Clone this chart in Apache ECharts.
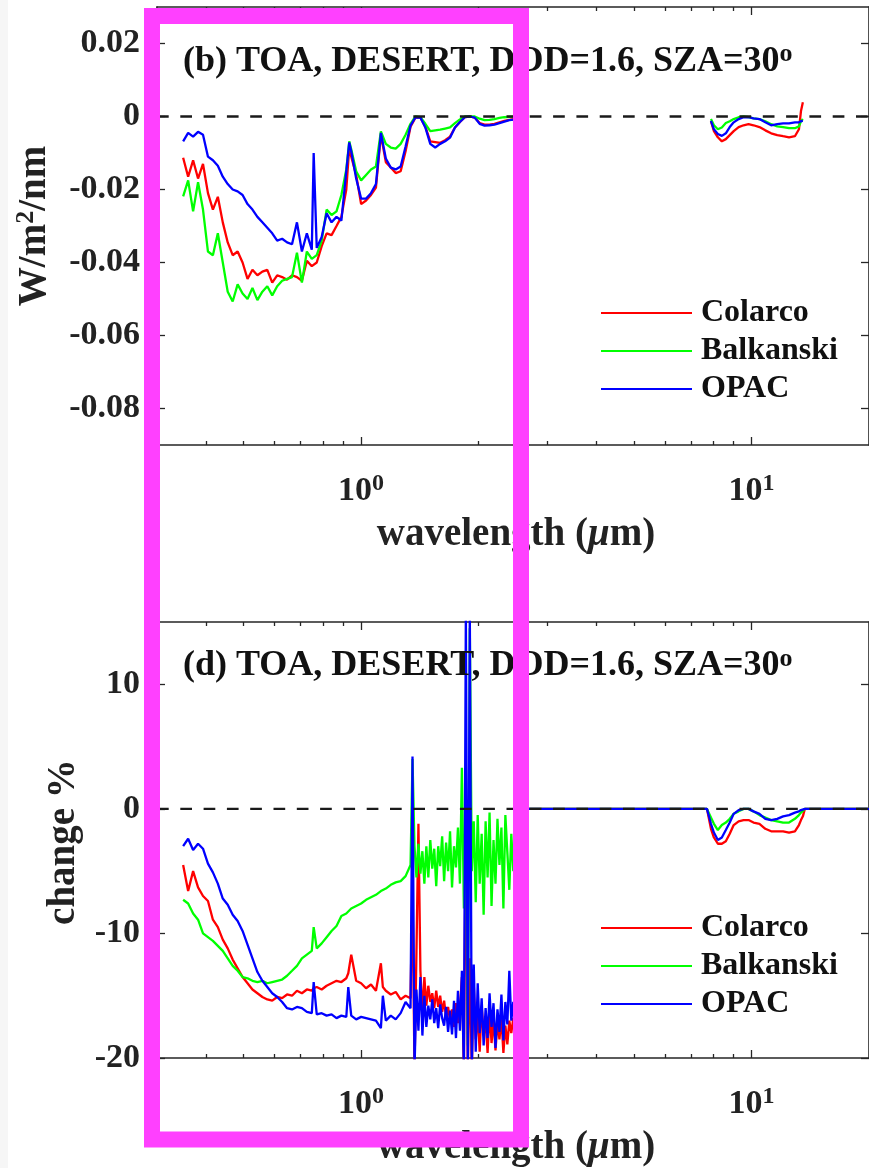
<!DOCTYPE html>
<html>
<head>
<meta charset="utf-8">
<script src="https://cdn.jsdelivr.net/npm/echarts@6/dist/echarts.min.js"></script>
<style>
  html, body { margin: 0; padding: 0; background: #ffffff; }
  #chart { width: 869px; height: 1168px; }
</style>
</head>
<body>
<div id="chart"></div>
<script>
// ---------------- data ----------------
// shortwave wavelengths (µm), panel (b)
const wlToa = [
  0.3500, 0.3605, 0.3712, 0.3822, 0.3935, 0.4052, 0.4172, 0.4295, 0.4422, 0.4553,
  0.4688, 0.4827, 0.4970, 0.5117, 0.5268, 0.5424, 0.5585, 0.5750, 0.5920, 0.6095,
  0.6276, 0.6461, 0.6653, 0.6849, 0.7052, 0.7261, 0.7476, 0.7559, 0.7697, 0.7925,
  0.8159, 0.8400, 0.8649, 0.8901, 0.9163, 0.9324, 0.9434, 0.9713, 1.0000, 1.0296,
  1.0600, 1.0914, 1.1237, 1.1569, 1.1911, 1.2263, 1.2626, 1.2999, 1.3384, 1.3779,
  1.4186, 1.4606, 1.5037, 1.5482, 1.5939, 1.6411, 1.6895, 1.7395, 1.7909, 1.8438,
  1.8983, 1.9544, 2.0122, 2.0717, 2.1329, 2.1958, 2.2609, 2.3277, 2.3965, 2.5000
];
// TOA forcing difference, W/m^2/nm
const toaColarco = [
  -0.0113, -0.0165, -0.0120, -0.0170, -0.0130, -0.0210, -0.0255, -0.0220, -0.0290, -0.0345,
  -0.0380, -0.0370, -0.0400, -0.0445, -0.0420, -0.0435, -0.0425, -0.0420, -0.0455, -0.0435,
  -0.0440, -0.0447, -0.0435, -0.0440, -0.0450, -0.0395, -0.0410, -0.0405, -0.0400, -0.0355,
  -0.0320, -0.0325, -0.0300, -0.0275, -0.0200, -0.0085, -0.0110, -0.0160, -0.0240, -0.0230,
  -0.0215, -0.0195, -0.0050, -0.0125, -0.0140, -0.0155, -0.0150, -0.0095, -0.0028, -0.0003,
  -0.0003, -0.0028, -0.0068, -0.0070, -0.0072, -0.0065, -0.0055, -0.0030, -0.0015, -0.0002,
   0.0000, -0.0003, -0.0018, -0.0022, -0.0022, -0.0020, -0.0016, -0.0012, -0.0009, -0.0006
];
const toaBalkanski = [
  -0.0219, -0.0175, -0.0260, -0.0180, -0.0255, -0.0370, -0.0380, -0.0320, -0.0400, -0.0480,
  -0.0507, -0.0460, -0.0485, -0.0500, -0.0470, -0.0503, -0.0480, -0.0465, -0.0490, -0.0465,
  -0.0450, -0.0445, -0.0440, -0.0373, -0.0455, -0.0370, -0.0390, -0.0385, -0.0380, -0.0340,
  -0.0255, -0.0270, -0.0260, -0.0215, -0.0145, -0.0068, -0.0090, -0.0150, -0.0175, -0.0160,
  -0.0145, -0.0137, -0.0041, -0.0075, -0.0085, -0.0088, -0.0075, -0.0050, -0.0020,  0.0000,
  -0.0002, -0.0020, -0.0040, -0.0038, -0.0036, -0.0033, -0.0030, -0.0018, -0.0008,  0.0000,
   0.0000,  0.0000, -0.0006, -0.0010, -0.0009, -0.0007, -0.0004, -0.0002, -0.0001,  0.0000
];
const toaOPAC = [
  -0.0068, -0.0045, -0.0055, -0.0042, -0.0050, -0.0110, -0.0120, -0.0135, -0.0165, -0.0185,
  -0.0200, -0.0205, -0.0215, -0.0240, -0.0255, -0.0275, -0.0290, -0.0305, -0.0320, -0.0340,
  -0.0335, -0.0345, -0.0350, -0.0290, -0.0370, -0.0320, -0.0365, -0.0100, -0.0360, -0.0330,
  -0.0265, -0.0290, -0.0275, -0.0285, -0.0150, -0.0071, -0.0095, -0.0170, -0.0225, -0.0225,
  -0.0210, -0.0185, -0.0045, -0.0115, -0.0140, -0.0145, -0.0137, -0.0082, -0.0025, -0.0002,
  -0.0003, -0.0030, -0.0075, -0.0085, -0.0075, -0.0068, -0.0058, -0.0030, -0.0015, -0.0002,
   0.0000, -0.0003, -0.0020, -0.0025, -0.0024, -0.0022, -0.0018, -0.0014, -0.0010, -0.0008
];

// thermal-infrared window wavelengths (µm), both panels
const wlIR = [7.873, 8.012, 8.200, 8.396, 8.595, 8.796, 9.004, 9.271, 9.544, 9.827,
              10.12, 10.48, 10.85, 11.23, 11.64, 12.05, 12.48, 12.92, 13.23, 13.39, 13.54];
const toaColarcoIR = [-0.0013, -0.0040, -0.0057, -0.0068, -0.0062, -0.0051, -0.0040, -0.0029, -0.0024, -0.0021,
                      -0.0024, -0.0029, -0.0038, -0.0046, -0.0051, -0.0054, -0.0057, -0.0054, -0.0035, 0.0015, 0.0039];
const toaBalkanskiIR = [-0.0007, -0.0024, -0.0035, -0.0030, -0.0018, -0.0013, -0.0007, -0.0002, 0.0000, -0.0002,
                        -0.0005, -0.0007, -0.0013, -0.0021, -0.0027, -0.0029, -0.0032, -0.0032, -0.0027, -0.0013, -0.0007];
const toaOPACIR = [-0.0012, -0.0035, -0.0048, -0.0053, -0.0046, -0.0029, -0.0016, -0.0007, -0.0002, -0.0002,
                   -0.0005, -0.0007, -0.0016, -0.0024, -0.0021, -0.0019, -0.0019, -0.0016, -0.0016, -0.0013, -0.0012];

// shortwave wavelengths (µm), panel (d)
const wlPct = [
  0.3500, 0.3605, 0.3712, 0.3822, 0.3935, 0.4052, 0.4172, 0.4295, 0.4422, 0.4553,
  0.4688, 0.4827, 0.4970, 0.5117, 0.5268, 0.5424, 0.5585, 0.5750, 0.5920, 0.6095,
  0.6276, 0.6461, 0.6653, 0.6849, 0.7052, 0.7261, 0.7476, 0.7559, 0.7697, 0.7925,
  0.8159, 0.8400, 0.8649, 0.8901, 0.9163, 0.9271, 0.9434, 0.9713, 1.0000, 1.0296,
  1.0600, 1.0914, 1.1237, 1.1368, 1.1569, 1.1911, 1.2263, 1.2626, 1.2999,
  1.3384, 1.3541, 1.3700, 1.3860, 1.4023, 1.4187, 1.4354, 1.4522, 1.4692, 1.4864,
  1.5039, 1.5215, 1.5393, 1.5574, 1.5756, 1.5941, 1.6128, 1.6317, 1.6508, 1.6702,
  1.6897, 1.7096, 1.7296, 1.7499, 1.7704, 1.7911, 1.8121, 1.8334, 1.8549, 1.8766,
  1.8986, 1.9209, 1.9434, 1.9662, 1.9892, 2.0125, 2.0361, 2.0600, 2.0841, 2.1086,
  2.1333, 2.1583, 2.1836, 2.2092, 2.2351, 2.2613, 2.2878, 2.3146, 2.3417, 2.3692,
  2.3969, 2.4250, 2.4535, 2.4822
];
// relative change, %
const pctColarco = [
  -4.5, -6.6, -5.0, -6.3, -7.0, -7.4, -8.9, -9.5, -10.5, -11.2,
  -12.1, -12.8, -13.5, -14.0, -14.5, -14.8, -15.1, -15.3, -15.4, -15.1,
  -15.2, -14.9, -15.0, -14.6, -14.8, -14.5, -14.6, -14.4, -14.3, -14.5,
  -14.2, -14.0, -13.8, -13.9, -13.6, -13.2, -11.7, -13.8, -14.0, -14.4,
  -14.1, -14.6, -12.4, -14.3, -14.6, -14.9, -14.7, -15.3, -15.0,
  -15.2, -6.0, -21.0, -11.5, -1.2, -13.0, -16.5, -13.5, -15.8, -14.2,
  -15.5, -14.8, -16.0, -14.6, -15.9, -15.0, -16.3, -15.4, -16.8, -15.9,
  -17.0, -16.1, -17.5, -15.6, -17.2, -16.0, -13.5, -21.0, 0.5, -21.0,
  -12.0, -21.0, -14.0, -18.5, -16.5, -19.5, -15.8, -18.2, -17.0, -19.6,
  -16.2, -18.8, -16.9, -19.4, -17.1, -18.5, -16.8, -19.6, -17.4, -18.9,
  -17.0, -18.0, -16.8, -17.5
];
const pctBalkanski = [
  -7.3, -7.6, -8.4, -8.9, -10.0, -10.3, -10.6, -11.0, -11.4, -12.0,
  -12.6, -13.0, -13.5, -13.6, -13.8, -13.9, -13.8, -14.0, -13.9, -13.8,
  -13.7, -13.4, -13.0, -12.6, -12.0, -11.7, -11.4, -9.5, -11.2, -10.8,
  -10.3, -9.8, -9.4, -8.6, -8.4, -8.3, -8.0, -7.8, -7.6, -7.3,
  -7.1, -6.9, -6.6, -6.5, -6.4, -6.1, -5.9, -5.8, -5.4,
  -4.5, 4.0, -3.0, -5.5, -2.8, -5.2, -3.4, -6.0, -3.0, -5.5,
  -2.5, -4.8, -3.2, -6.2, -3.0, -4.6, -2.2, -5.8, -2.7, -5.0,
  -1.8, -6.3, -3.0, -4.7, -1.5, -6.0, 3.3, -8.0, -2.0, -19.0,
  14.5, -5.0, -1.0, -7.5, -0.5, -6.0, -2.0, -8.5, -1.0, -5.5,
  -0.3, -7.8, -2.5, -6.0, -0.8, -4.5, -1.5, -8.0, -0.5, -3.5,
  -6.5, -2.0, -5.0, -1.0
];
const pctOPAC = [
  -3.0, -2.4, -3.3, -2.8, -3.2, -4.4, -5.1, -6.0, -7.2, -7.7,
  -8.5, -9.0, -9.8, -10.9, -12.0, -13.1, -13.8, -14.3, -14.8, -15.1,
  -15.5, -16.0, -16.1, -15.9, -16.0, -16.3, -16.4, -13.9, -16.5, -16.4,
  -16.6, -16.5, -16.8, -16.6, -16.7, -14.3, -16.6, -16.9, -16.7, -16.8,
  -16.9, -17.0, -17.6, -15.0, -17.0, -16.6, -16.9, -16.4, -15.5,
  -16.0, 4.2, -21.0, -14.5, -17.8, -13.5, -18.2, -15.0, -17.5, -15.8,
  -16.9, -15.3, -17.2, -16.0, -17.6, -15.7, -16.8, -17.4, -15.9, -17.9,
  -16.2, -18.1, -15.4, -18.4, -14.6, -17.8, -13.0, -21.0, 16.0, -21.0,
  16.0, -21.0, -12.5, -19.5, -14.0, -18.0, -15.2, -19.0, -16.0, -18.4,
  -14.8, -17.5, -15.6, -19.2, -16.1, -17.9, -14.9, -18.6, -15.5, -17.3,
  -13.0, -17.0, -15.5, -16.5
];
const pctColarcoIR = [-1.6, -2.3, -2.8, -2.8, -2.6, -2.0, -1.3, -1.0, -0.9, -0.9,
                      -1.1, -1.2, -1.6, -1.8, -1.8, -1.8, -1.9, -1.8, -1.3, -0.9, -0.6];
const pctBalkanskiIR = [-0.7, -1.2, -1.7, -1.3, -1.1, -0.8, -0.4, -0.2, 0.0, 0.0,
                        -0.2, -0.5, -0.7, -0.9, -1.0, -1.1, -1.1, -0.8, -0.5, -0.3, -0.2];
const pctOPACIR = [-1.2, -1.9, -2.5, -2.3, -1.7, -1.1, -0.4, -0.1, 0.0, 0.0,
                   -0.2, -0.4, -0.8, -0.9, -0.8, -0.6, -0.5, -0.3, -0.2, -0.1, -0.05];
// panel (d): zero change between the bands and beyond the IR window
const pctFlatLow = [2.5, 7.69];
const pctFlatHigh = [13.70, 20];

// axis ticks
const xMajorTicks = [1, 10];
const xMinorTicks = [0.4, 0.5, 0.6, 0.7, 0.8, 0.9, 2, 3, 4, 5, 6, 7, 8, 9];
const toaTicks = [-0.08, -0.06, -0.04, -0.02, 0, 0.02];
const pctTicks = [-20, -10, 0, 10];
const seriesNames = ['Colarco', 'Balkanski', 'OPAC'];
const seriesColors = ['#ff0000', '#00ff00', '#0000ff'];

// ---------------- styling helpers ----------------
const SERIF = "'Liberation Serif', 'Times New Roman', serif";
const AXC = '#262626';
const X_MIN = 0.3, X_MAX = 20;

function xAxesFor(grid) {
  const base = {
    type: 'log', logBase: 10, min: X_MIN, max: X_MAX, gridIndex: grid,
    splitLine: { show: false }, minorTick: { show: false }, minorSplitLine: { show: false }
  };
  const line = { show: true, onZero: false, lineStyle: { color: AXC, width: 1.6 } };
  const major = { show: true, inside: true, length: 8, customValues: xMajorTicks, lineStyle: { color: AXC, width: 1.3 } };
  const minor = { show: true, inside: true, length: 4, customValues: xMinorTicks, lineStyle: { color: AXC, width: 1.3 } };
  return [
    Object.assign({}, base, {
      position: 'bottom', axisLine: line, axisTick: major,
      axisLabel: {
        show: true, customValues: xMajorTicks, margin: 27,
        formatter: v => '{b|10}{s|' + Math.round(Math.log10(v)) + '}',
        rich: {
          b: { fontFamily: SERIF, fontWeight: 'bold', fontSize: 34, lineHeight: 38, color: '#222' },
          s: { fontFamily: SERIF, fontWeight: 'bold', fontSize: 24, lineHeight: 20, verticalAlign: 'top', color: '#222' }
        }
      }
    }),
    Object.assign({}, base, { position: 'bottom', axisLine: { show: false, onZero: false }, axisTick: minor, axisLabel: { show: false } }),
    Object.assign({}, base, { position: 'top', axisLine: line, axisTick: major, axisLabel: { show: false } }),
    Object.assign({}, base, { position: 'top', axisLine: { show: false, onZero: false }, axisTick: minor, axisLabel: { show: false } })
  ];
}

function yAxesFor(grid, min, max, ticks, fmt) {
  const line = { show: true, onZero: false, lineStyle: { color: AXC, width: 1.6 } };
  const tick = { show: true, inside: true, length: 8, customValues: ticks, lineStyle: { color: AXC, width: 1.3 } };
  return [
    {
      type: 'value', gridIndex: grid, min, max, position: 'left',
      axisLine: line, axisTick: tick, splitLine: { show: false },
      axisLabel: {
        show: true, customValues: ticks, margin: 17, formatter: fmt,
        fontFamily: SERIF, fontWeight: 'bold', fontSize: 34, color: '#222'
      }
    },
    {
      type: 'value', gridIndex: grid, min, max, position: 'right',
      axisLine: line, axisTick: tick, splitLine: { show: false }, axisLabel: { show: false }
    }
  ];
}

function pairs(xs, ys) { return xs.map((x, i) => [x, ys[i]]); }

function curve(name, color, xIdx, yIdx, data) {
  return {
    name, type: 'line', xAxisIndex: xIdx, yAxisIndex: yIdx, data,
    showSymbol: false, symbol: 'none', animation: false, silent: true,
    lineStyle: { color, width: 2.3 }, itemStyle: { color }, z: 3
  };
}

function zeroLine(xIdx, yIdx) {
  return {
    name: 'zero', type: 'line', xAxisIndex: xIdx, yAxisIndex: yIdx,
    data: [[X_MIN, 0], [X_MAX, 0]], showSymbol: false, symbol: 'none',
    animation: false, silent: true, z: 5,
    lineStyle: { color: '#1a1a1a', width: 2.4, type: [11.7, 11.6] }
  };
}

const toaVis = [toaColarco, toaBalkanski, toaOPAC];
const toaIR = [toaColarcoIR, toaBalkanskiIR, toaOPACIR];
const pctVis = [pctColarco, pctBalkanski, pctOPAC];
const pctIR = [pctColarcoIR, pctBalkanskiIR, pctOPACIR];

const series = [];
seriesNames.forEach((n, k) => {
  // panel (b): shortwave band, a break, then the IR window
  const d = pairs(wlToa, toaVis[k]).concat([[4, null]], pairs(wlIR, toaIR[k]));
  series.push(curve(n, seriesColors[k], 0, 0, d));
});
series.push(zeroLine(0, 0));
seriesNames.forEach((n, k) => {
  // panel (d): change stays at zero outside the two bands
  const d = pairs(wlPct, pctVis[k])
    .concat(pctFlatLow.map(w => [w, 0]), pairs(wlIR, pctIR[k]), pctFlatHigh.map(w => [w, 0]));
  series.push(curve(n, seriesColors[k], 4, 2, d));
});
series.push(zeroLine(4, 2));

function legendAt(top) {
  return {
    top, left: 601, orient: 'vertical', icon: 'rect', itemWidth: 91, itemHeight: 2,
    itemGap: 0, padding: 0, data: seriesNames, selectedMode: false,
    textStyle: { fontFamily: SERIF, fontWeight: 'bold', fontSize: 32, color: '#111', lineHeight: 38, padding: [0, 0, 0, 4] }
  };
}

function richTitle(letter, y) {
  return {
    type: 'text', x: 183, y, z: 50,
    style: {
      text: '{t|(' + letter + ') TOA, DESERT, DOD=1.6, SZA=30}{s|o}',
      textAlign: 'left', textVerticalAlign: 'middle', align: 'left', verticalAlign: 'middle',
      rich: {
        t: { fontFamily: SERIF, fontWeight: 'bold', fontSize: 36, lineHeight: 40, fill: '#111', color: '#111' },
        s: { fontFamily: SERIF, fontWeight: 'bold', fontSize: 26, lineHeight: 8, verticalAlign: 'top', fill: '#111', color: '#111' }
      }
    }
  };
}

function axisName(text, rich, x, y, rot) {
  return {
    type: 'text', x, y, rotation: rot, z: 50,
    style: {
      text, rich,
      textAlign: 'center', textVerticalAlign: 'middle', align: 'center', verticalAlign: 'middle'
    }
  };
}

const nameFont = { fontFamily: SERIF, fontWeight: 'bold', fontSize: 39, lineHeight: 44, fill: '#222', color: '#222' };
const nameSup = { fontFamily: SERIF, fontWeight: 'bold', fontSize: 26, lineHeight: 20, verticalAlign: 'top', fill: '#222', color: '#222' };
const nameMu = { fontFamily: SERIF, fontWeight: 'bold', fontStyle: 'italic', fontSize: 39, lineHeight: 44, fill: '#222', color: '#222' };
const wlName = '{a|wavelength (}{m|μ}{a|m)}';

const chart = echarts.init(document.getElementById('chart'), null, { renderer: 'canvas' });
chart.setOption({
  backgroundColor: '#ffffff',
  animation: false,
  grid: [
    { left: 157, top: 7, width: 719.4, height: 438, containLabel: false },
    { left: 157, top: 622, width: 719.4, height: 436, containLabel: false }
  ],
  xAxis: xAxesFor(0).concat(xAxesFor(1)),
  yAxis: yAxesFor(0, -0.09, 0.03, toaTicks, v => String(+v.toFixed(2)))
    .concat(yAxesFor(1, -20, 15, pctTicks, v => String(Math.round(v)))),
  legend: [legendAt(294), legendAt(909)],
  series,
  graphic: [
    { type: 'rect', shape: { x: 0, y: 0, width: 8, height: 1168 }, style: { fill: '#f6f6f6' }, z: 40 },
    richTitle('b', 61.5),
    richTitle('d', 666),
    axisName('{a|W/m}{s|2}{a|/nm}', { a: nameFont, s: nameSup }, 35, 226, Math.PI / 2),
    axisName('{a|change %}', { a: nameFont }, 64, 842, Math.PI / 2),
    axisName(wlName, { a: nameFont, m: nameMu }, 516, 535, 0),
    axisName(wlName, { a: nameFont, m: nameMu }, 516, 1148, 0),
    // highlight frame over the shortwave region
    { type: 'rect', z: 100, shape: { x: 152, y: 16, width: 369, height: 1123.5 },
      style: { fill: 'none', stroke: '#ff40ff', lineWidth: 16 } }
  ]
});
</script>
</body>
</html>
